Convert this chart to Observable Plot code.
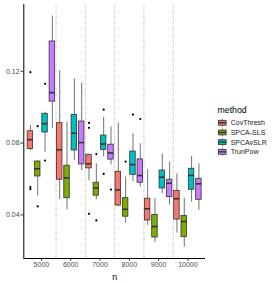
<!DOCTYPE html>
<html><head><meta charset="utf-8">
<script src="https://cdn.jsdelivr.net/npm/d3@7"></script>
<script src="https://cdn.jsdelivr.net/npm/@observablehq/plot@0.6"></script>
<style>
body{margin:0;background:#fff;}
#wrap{position:relative;width:275px;height:283px;font-family:"Liberation Sans",Arial,sans-serif;}
#wrap svg{display:block;}
#legend{position:absolute;left:0;top:0;}
</style></head><body><div id="wrap"></div>
<script>
const nLabels = ["5000","6000","7000","8000","9000","10000"];
const methods = ["CovThresh","SPCA-SLS","SPCAvSLR","TrunPow"];
const colors = ["#F8766D","#7CAE00","#00BFC4","#C77CFF"];
// rows follow methods, columns follow nLabels
const whiskerLow = [
  [0.0758,0.0484,0.0590,0.0447,0.0341,0.0298],
  [0.0505,0.0428,0.0484,0.0354,0.0248,0.0220],
  [0.0749,0.0703,0.0723,0.0586,0.0518,0.0471],
  [0.0880,0.0647,0.0678,0.0554,0.0455,0.0425]
];
const q1 = [
  [0.0767,0.0596,0.0659,0.0452,0.0369,0.0374],
  [0.0614,0.0493,0.0507,0.0390,0.0274,0.0276],
  [0.0859,0.0759,0.0762,0.0623,0.0547,0.0540],
  [0.1031,0.0681,0.0708,0.0579,0.0499,0.0484]
];
const median = [
  [0.0819,0.0763,0.0684,0.0539,0.0434,0.0490],
  [0.0657,0.0606,0.0550,0.0431,0.0335,0.0363],
  [0.0908,0.0855,0.0795,0.0680,0.0610,0.0620],
  [0.1081,0.0803,0.0745,0.0619,0.0576,0.0573]
];
const q3 = [
  [0.0866,0.0911,0.0735,0.0640,0.0490,0.0534],
  [0.0697,0.0674,0.0579,0.0493,0.0400,0.0394],
  [0.0963,0.0956,0.0842,0.0753,0.0647,0.0657],
  [0.1366,0.0920,0.0791,0.0709,0.0596,0.0601]
];
const whiskerHigh = [
  [0.0898,0.1204,0.0737,0.0911,0.0651,0.0629],
  [0.0703,0.0915,0.0685,0.0611,0.0490,0.0493],
  [0.0972,0.1158,0.0943,0.0852,0.0739,0.0725],
  [0.1508,0.1134,0.0890,0.0796,0.0694,0.0685]
];
const outlierN      = ["5000","5000","5000","7000","7000","7000","5000","5000","7000","7000","8000","5000","5000","7000","7000","8000","7000","8000"];
const outlierMethod = ["CovThresh","CovThresh","CovThresh","CovThresh","CovThresh","CovThresh","SPCA-SLS","SPCA-SLS","SPCA-SLS","SPCA-SLS","SPCA-SLS","SPCAvSLR","SPCAvSLR","SPCAvSLR","SPCAvSLR","SPCAvSLR","TrunPow","TrunPow"];
const outlierValue  = [0.1195,0.0555,0.0543,0.0912,0.0885,0.0406,0.0894,0.0447,0.0739,0.0369,0.0697,0.1130,0.0703,0.0986,0.0628,0.0959,0.0541,0.0934];
const yTicks = [0.04,0.08,0.12];

const dodge = 1 / methods.length;      // position_dodge(width = 1)
const boxHalf = 0.75 / methods.length / 2;
const xDomain = [-0.6, nLabels.length - 1 + 0.6];
const yDomain = [0.0157, 0.1572];
const posOf = (n, m) => nLabels.indexOf(n) + (methods.indexOf(m) - (methods.length - 1) / 2) * dodge;

const boxes = [];
methods.forEach((m, j) => nLabels.forEach((n, i) => boxes.push({
  method: m, n, pos: posOf(n, m),
  lo: whiskerLow[j][i], q1: q1[j][i], med: median[j][i], q3: q3[j][i], hi: whiskerHigh[j][i]
})));
const outliers = outlierValue.map((v, k) => ({n: outlierN[k], method: outlierMethod[k], value: v, pos: posOf(outlierN[k], outlierMethod[k])}));
const separators = d3.range(1, nLabels.length).map(i => i - 0.5);

const chart = Plot.plot({
  width: 275, height: 283,
  marginLeft: 23.3, marginRight: 70, marginTop: 4, marginBottom: 25,
  style: {fontFamily: "'Liberation Sans', Arial, sans-serif", fontSize: "7px", color: "#4d4d4d", background: "#fff"},
  x: {type: "linear", domain: xDomain},
  y: {domain: yDomain},
  color: {domain: methods, range: colors},
  marks: [
    Plot.ruleX(separators, {stroke: "#8a8a8a", strokeWidth: 0.8, strokeDasharray: "0.8,1.6"}),
    Plot.ruleX(boxes, {x: "pos", y1: "lo", y2: "hi", stroke: "#333", strokeWidth: 0.7}),
    Plot.rectY(boxes, {x1: d => d.pos - boxHalf, x2: d => d.pos + boxHalf, y1: "q1", y2: "q3", fill: "method", stroke: "#333", strokeWidth: 0.8}),
    Plot.ruleY(boxes, {x1: d => d.pos - boxHalf, x2: d => d.pos + boxHalf, y: "med", stroke: "#333", strokeWidth: 1.6}),
    Plot.dot(outliers, {x: "pos", y: "value", r: 1.1, fill: "#000", stroke: null}),
    Plot.ruleX([xDomain[0]], {stroke: "#000", strokeWidth: 1}),
    Plot.ruleY([yDomain[0]], {stroke: "#000", strokeWidth: 1}),
    Plot.axisY({ticks: yTicks, tickFormat: d3.format(".2f"), tickSize: 2.75, tickPadding: 1.5, stroke: "#333", fill: "#4d4d4d", label: null}),
    Plot.axisX({ticks: d3.range(nLabels.length), tickFormat: i => nLabels[i], tickSize: 2.75, tickPadding: 1, stroke: "#333", fill: "#4d4d4d", label: null}),
    Plot.axisX({ticks: [], tickSize: 0, label: "n", labelAnchor: "center", labelArrow: "none", labelOffset: 21, fontSize: 8.75, fill: "#000"})
  ]
});
const wrap = document.getElementById("wrap");
wrap.appendChild(chart);

// legend (ggplot-style boxplot keys)
const leg = d3.select(wrap).append("svg").attr("id", "legend").attr("width", 275).attr("height", 283)
  .style("font-family", "'Liberation Sans', Arial, sans-serif");
leg.append("text").attr("x", 217.5).attr("y", 113).attr("font-size", 8.75).attr("fill", "#000").text("method");
const key = 9.7, keyX = 217.4, keyY0 = 117.9;
methods.forEach((m, j) => {
  const g = leg.append("g").attr("transform", `translate(${keyX},${keyY0 + j * key})`);
  g.append("line").attr("x1", key / 2).attr("x2", key / 2).attr("y1", key * 0.1).attr("y2", key * 0.9).attr("stroke", "#333").attr("stroke-width", 0.7);
  g.append("rect").attr("x", key * 0.1).attr("y", key * 0.25).attr("width", key * 0.8).attr("height", key * 0.5).attr("fill", colors[j]).attr("stroke", "#333").attr("stroke-width", 0.8);
  g.append("line").attr("x1", key * 0.1).attr("x2", key * 0.9).attr("y1", key / 2).attr("y2", key / 2).attr("stroke", "#333").attr("stroke-width", 1.4);
  leg.append("text").attr("x", 230.7).attr("y", keyY0 + j * key + key / 2).attr("dy", "0.35em").attr("font-size", 7).attr("fill", "#1a1a1a").text(m);
});
</script></body></html>
